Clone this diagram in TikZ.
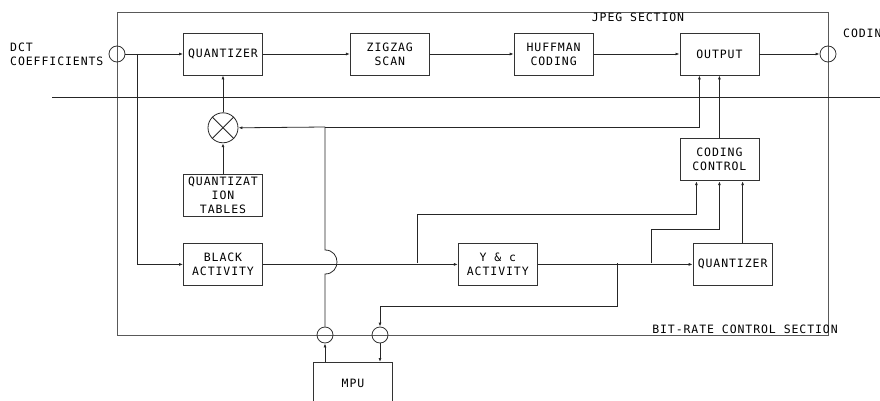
\documentclass[tikz,border=0pt]{standalone}
\usepackage{fontspec}
\usepackage{tikz}
\usetikzlibrary{arrows.meta, positioning, calc}
\newfontfamily\diagfont[LetterSpace=8]{DejaVu Sans Mono}
\tikzset{
  block/.style = {rectangle, draw=black!80, line width=0.8pt,
    minimum width=79pt, minimum height=42pt, inner sep=0pt, align=center},
  junc/.style  = {circle, draw=black!80, line width=0.8pt, minimum size=16pt, inner sep=0pt},
  mult/.style  = {circle, draw=black!85, line width=0.8pt, minimum size=30pt, inner sep=0pt},
  frame/.style = {draw=black!65, line width=0.8pt},
  arrow/.style = {line width=0.8pt, draw=black!85, -{Latex[length=4pt,width=3pt]}},
  line/.style  = {line width=0.8pt, draw=black!85},
  title/.style = {inner sep=0pt},
}

\begin{document}
\begin{tikzpicture}[x=1pt, y=-1pt, node distance=30pt,
  font=\diagfont\fontsize{11.5}{14}\selectfont]
  \useasboundingbox (0,0) rectangle (880,401);

  % Sections
  \draw[frame] (117,12) rectangle (828,335);
  \draw[line] (52,97) -- (880,97);
  \node[title] (jpeg)    at (638,17)  {JPEG SECTION};
  \node[title] (bitrate) at (745,329) {BIT-RATE CONTROL SECTION};

  % JPEG path
  \node[block] (quan) at (223,54) {QUANTIZER};
  \node[block, right=87pt of quan]   (zigzag) {ZIGZAG\\SCAN};
  \node[block, right=84pt of zigzag] (huff)   {HUFFMAN\\CODING};
  \node[block, right=86pt of huff]   (output) {OUTPUT};

  % Ports
  \node[junc] (jin)  at (117,54)  {};
  \node[junc] (jout) at (828,54)  {};
  \node[junc] (jm1)  at (325,335) {};
  \node[junc] (jm2)  at (380,335) {};
  \node[title, anchor=west, align=left] (dct) at (10,54) {DCT\\COEFFICIENTS};
  \node[title, anchor=west] (coding) at (843,33) {CODING};

  % Quantization tables
  \node[mult, below=37pt of quan] (mul) {};
  \draw[line] (mul.north east) -- (mul.south west);
  \draw[line] (mul.north west) -- (mul.south east);
  \node[block, below=31pt of mul] (qtab) {QUANTIZAT\\ION\\TABLES};

  % Bit-rate control
  \node[block, below=26pt of qtab]  (black) {BLACK\\ACTIVITY};
  \node[block, right=195pt of black] (yc)    {Y \& c\\ACTIVITY};
  \node[block, right=155pt of yc]    (quan2) {QUANTIZER};
  \node[block, below=63pt of output] (ctrl)  {CODING\\CONTROL};
  \node[block, anchor=north] (mpu) at (353,362) {MPU};

  \coordinate (split) at (137,54);
  \coordinate (bus)   at (325,127);
  \coordinate (tapA)  at (417,263);
  \coordinate (tapB)  at (651,263);
  \coordinate (tapC)  at (617,263);
  \coordinate (loop)  at (380,306);

  % JPEG arrows
  \draw[arrow] (jin.east) -- (quan.west);
  \draw[arrow] (quan) -- (zigzag);
  \draw[arrow] (zigzag) -- (huff);
  \draw[arrow] (huff) -- (output);
  \draw[arrow] (output) -- (jout.west);
  \draw[arrow] (split) |- (black.west);
  \draw[arrow] (qtab) -- (mul);
  \draw[arrow] (mul) -- (quan);

  % MPU bus
  \draw[arrow] (jm1 |- mpu.north) -- (jm1.south);
  \draw[line] (jm1.north) -- (325,274) .. controls (341,274) and (341,250) .. (325,250) -- (bus);
  \draw[arrow] (bus) -- (mul.east);
  \draw[arrow] (bus) -| ($(output.south)+(-20,0)$);

  % Control arrows
  \draw[arrow] (black) -- (yc);
  \draw[arrow] (yc) -- (quan2);
  \draw[arrow] (tapA) -- ++(0,-49) -| ($(ctrl.south)+(-23,0)$);
  \draw[arrow] (tapB) -- ++(0,-34) -| (ctrl.south);
  \draw[arrow] ($(quan2.north)+(10,0)$) coordinate (q2up) -- (q2up |- ctrl.south);
  \draw[arrow] (ctrl) -- (output);
  \draw[line] (tapC) |- (loop);
  \draw[arrow] (loop) -- (jm2.north);
  \draw[arrow] (jm2.south) -- (jm2 |- mpu.north);

\end{tikzpicture}
\end{document}
